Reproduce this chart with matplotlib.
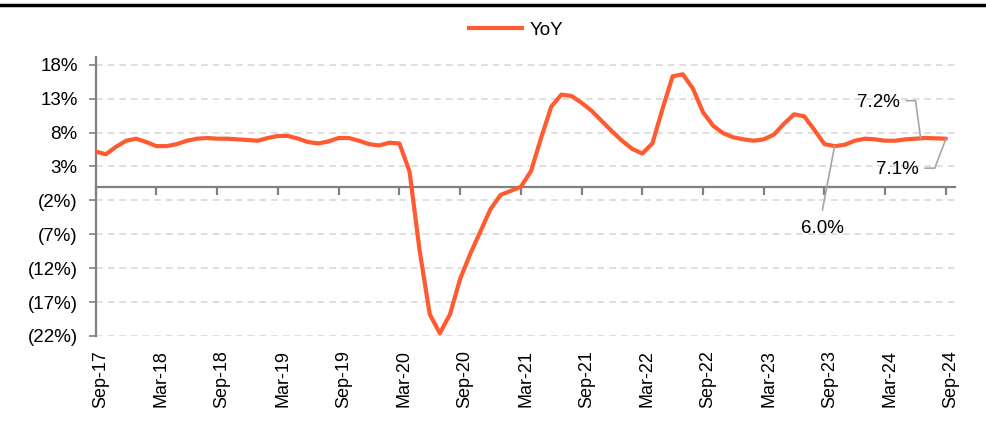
import matplotlib
matplotlib.use("Agg")
import matplotlib.pyplot as plt
from matplotlib.lines import Line2D
from matplotlib.ticker import FixedLocator, FuncFormatter
from matplotlib.transforms import ScaledTranslation

plt.rcParams["font.family"] = ["Liberation Sans", "DejaVu Sans"]

# Monthly YoY growth (%), Sep-17 .. Sep-24
yoy = [
    5.2, 4.8, 5.9, 6.8, 7.1, 6.6, 6.0, 6.0, 6.3, 6.8, 7.1, 7.2,
    7.1, 7.1, 7.0, 6.9, 6.8, 7.2, 7.5, 7.5, 7.1, 6.6, 6.4, 6.7,
    7.2, 7.2, 6.8, 6.3, 6.1, 6.5, 6.4, 2.3, -9.4, -18.8, -21.6, -18.8,
    -13.6, -9.9, -6.6, -3.3, -1.2, -0.6, 0.0, 2.3, 7.2, 11.8, 13.6, 13.4,
    12.4, 11.2, 9.7, 8.2, 6.8, 5.6, 4.9, 6.4, 11.5, 16.3, 16.6, 14.5,
    11.0, 9.0, 7.9, 7.3, 7.0, 6.8, 7.0, 7.7, 9.3, 10.7, 10.4, 8.4,
    6.3, 6.0, 6.2, 6.8, 7.1, 7.0, 6.8, 6.8, 7.0, 7.1, 7.2, 7.15,
    7.1,
]
months = list(range(len(yoy)))

x_tick_labels = ["Sep-17", "Mar-18", "Sep-18", "Mar-19", "Sep-19", "Mar-20",
                 "Sep-20", "Mar-21", "Sep-21", "Mar-22", "Sep-22", "Mar-23",
                 "Sep-23", "Mar-24", "Sep-24"]
x_tick_pos = [6 * i for i in range(len(x_tick_labels))]
y_ticks = [18, 13, 8, 3, -2, -7, -12, -17, -22]

# Callouts: (text, label x, label y, leader path ending on the line)
callouts = [
    ("6.0%", 71.8, -6.1, [(71.8, -3.4), (73, 6.0)]),
    ("7.2%", 77.3, 12.4, [(80.1, 12.7), (81.0, 12.7), (81.5, 7.2)]),
    ("7.1%", 79.2, 2.5, [(81.95, 2.75), (82.9, 2.75), (84, 7.1)]),
]

LINE_COLOR = "#FF5A30"
AXIS_GRAY = "#808080"
GRID_GRAY = "#D9D9D9"

fig = plt.figure(figsize=(9.87, 4.29), dpi=100)
ax = fig.add_axes([0.097, 0.2168, 0.8706, 0.6496])

ax.plot(months, yoy, color=LINE_COLOR, lw=3.0, solid_capstyle="round",
        solid_joinstyle="round", label="YoY", zorder=3)

ax.set_xlim(0, 84.9)
ax.set_ylim(-22, 19.1)

# y axis
ax.yaxis.set_major_locator(FixedLocator(y_ticks))
ax.yaxis.set_major_formatter(FuncFormatter(
    lambda v, _: f"{int(round(v))}%" if v >= 0 else f"({int(round(-v))}%)"))
ax.tick_params(axis="y", direction="out", length=5, width=1.2, color=AXIS_GRAY,
               labelsize=13.5, pad=8)
ax.grid(axis="y", color=GRID_GRAY, linestyle=(0, (4, 3)), lw=1.2, zorder=0)

# x axis: line at zero, labels at the bottom
ax.spines["bottom"].set_position(("data", 0))
ax.spines["bottom"].set_color(AXIS_GRAY)
ax.spines["bottom"].set_linewidth(1.6)
ax.spines["left"].set_color(AXIS_GRAY)
ax.spines["left"].set_linewidth(1.6)
ax.spines["top"].set_visible(False)
ax.spines["right"].set_visible(False)
ax.set_xticks(x_tick_pos)
ax.tick_params(axis="x", direction="out", length=6, width=1.6, color=AXIS_GRAY,
               labelbottom=False)

sec = ax.secondary_xaxis("bottom")
sec.set_xticks(x_tick_pos)
sec.set_xticklabels(x_tick_labels, rotation=90)
sec.tick_params(axis="x", length=0, labelsize=13, pad=10)
sec.spines["bottom"].set_visible(False)
shift = ScaledTranslation(5 / 100, 0, fig.dpi_scale_trans)
for lbl in sec.get_xticklabels():
    lbl.set_transform(lbl.get_transform() + shift)

# callouts with grey leader lines
for text, lx, ly, path in callouts:
    xs = [p[0] for p in path]
    ys = [p[1] for p in path]
    ax.add_line(Line2D(xs, ys, color="#A6A6A6", lw=1.2, zorder=4))
    ax.text(lx, ly, text, ha="center", va="center", fontsize=13.5,
            color="black", zorder=5)

# legend at the top
fig.legend(handles=[Line2D([0], [0], color=LINE_COLOR, lw=3)], labels=["YoY"],
           loc="center", bbox_to_anchor=(0.523, 0.93), frameon=False,
           fontsize=13.5, handlelength=2.8, handletextpad=0.4)

# heavy rule across the top of the figure
fig.add_artist(Line2D([0, 1], [0.988, 0.988], transform=fig.transFigure,
                      color="black", lw=2.5))

fig.savefig("out.png", dpi=100)
